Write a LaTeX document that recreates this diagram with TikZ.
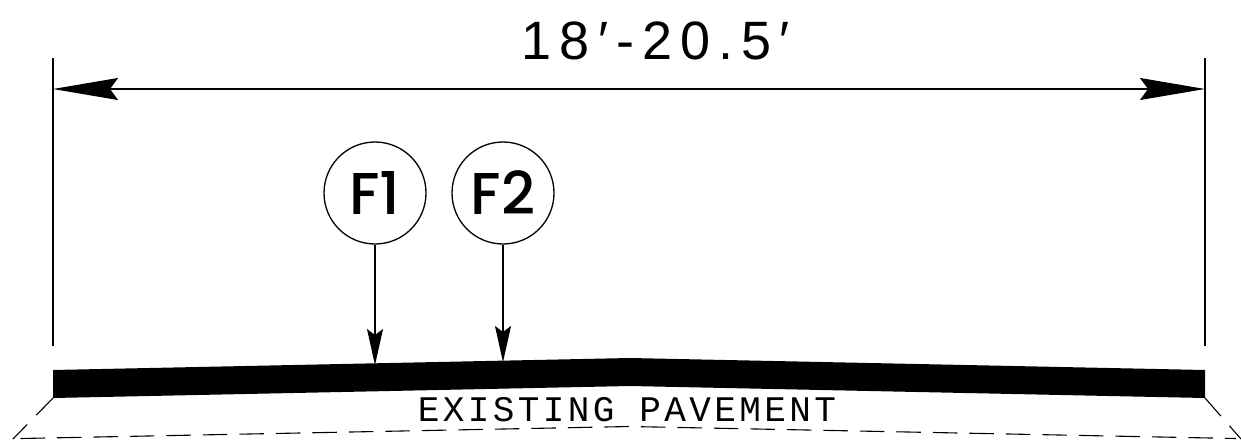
\documentclass[tikz,border=0pt]{standalone}
\usepackage{fontspec}
\setmainfont{Liberation Sans}
\newfontfamily\dimfont[LetterSpace=15]{Liberation Sans}
\newfontfamily\patfont[LetterSpace=9.4]{Liberation Mono}
\newfontfamily\tagfont{Poppins Medium}
\usetikzlibrary{arrows.meta}
\tikzset{
  thinline/.style={line width=1.3pt,black},
  dimtips/.style={{Stealth[length=65pt,width=22pt,inset=8pt]}-{Stealth[length=65pt,width=22pt,inset=8pt]}},
  leadertip/.style={-{Stealth[length=36pt,width=16pt,inset=6pt]}},
  tagcircle/.style={circle,draw,line width=1.3pt,minimum size=102pt,inner sep=0pt,font=\fontsize{59}{59}\selectfont\tagfont},
  dashline/.style={line width=1.1pt,dash pattern=on 24.5pt off 12pt},
  slantline/.style={line width=1.1pt,dash pattern=on 24pt off 13pt},
}
\begin{document}
\begin{tikzpicture}[x=1pt,y=-1pt]
\useasboundingbox (0,0) rectangle (1241,445);
\node[font=\fontsize{54}{54}\selectfont\dimfont,anchor=base] (title) at (656,59) {18′-20.5′};
\coordinate (dl) at (53,89);
\coordinate (dr) at (1205,89);
\coordinate (dlt) at (53,58);
\coordinate (dlb) at (53,346);
\coordinate (drt) at (1205,58);
\coordinate (drb) at (1205,346);
\draw[thinline] (dlt) -- (dlb);
\draw[thinline] (drt) -- (drb);
\draw[thinline,dimtips] (dl) -- (dr);
\fill (53,370) -- (630,358) -- (1205,370) -- (1205,398) -- (630,386) -- (53,398) -- cycle;
\node[tagcircle] (f1) at (375,193) {F1};
\node[tagcircle] (f2) at (503,193) {F2};
\coordinate (t1) at (375,365);
\coordinate (t2) at (503,362);
\draw[thinline,leadertip] (f1) -- (t1);
\draw[thinline,leadertip] (f2) -- (t2);
\node[font=\fontsize{36}{36}\selectfont\patfont,anchor=base] (pav) at (627,421) {EXISTING PAVEMENT};
\coordinate (cl) at (53,398);
\coordinate (cll) at (13,439);
\coordinate (cr) at (1205,398);
\coordinate (crr) at (1241,439);
\coordinate (bl) at (20.5,438.5);
\coordinate (bm) at (630,426.5);
\coordinate (br) at (1236,438.5);
\draw[slantline] (cl) -- (cll);
\draw[slantline] (cr) -- (crr);
\draw[dashline] (bl) -- (bm) -- (br);
\end{tikzpicture}
\end{document}
